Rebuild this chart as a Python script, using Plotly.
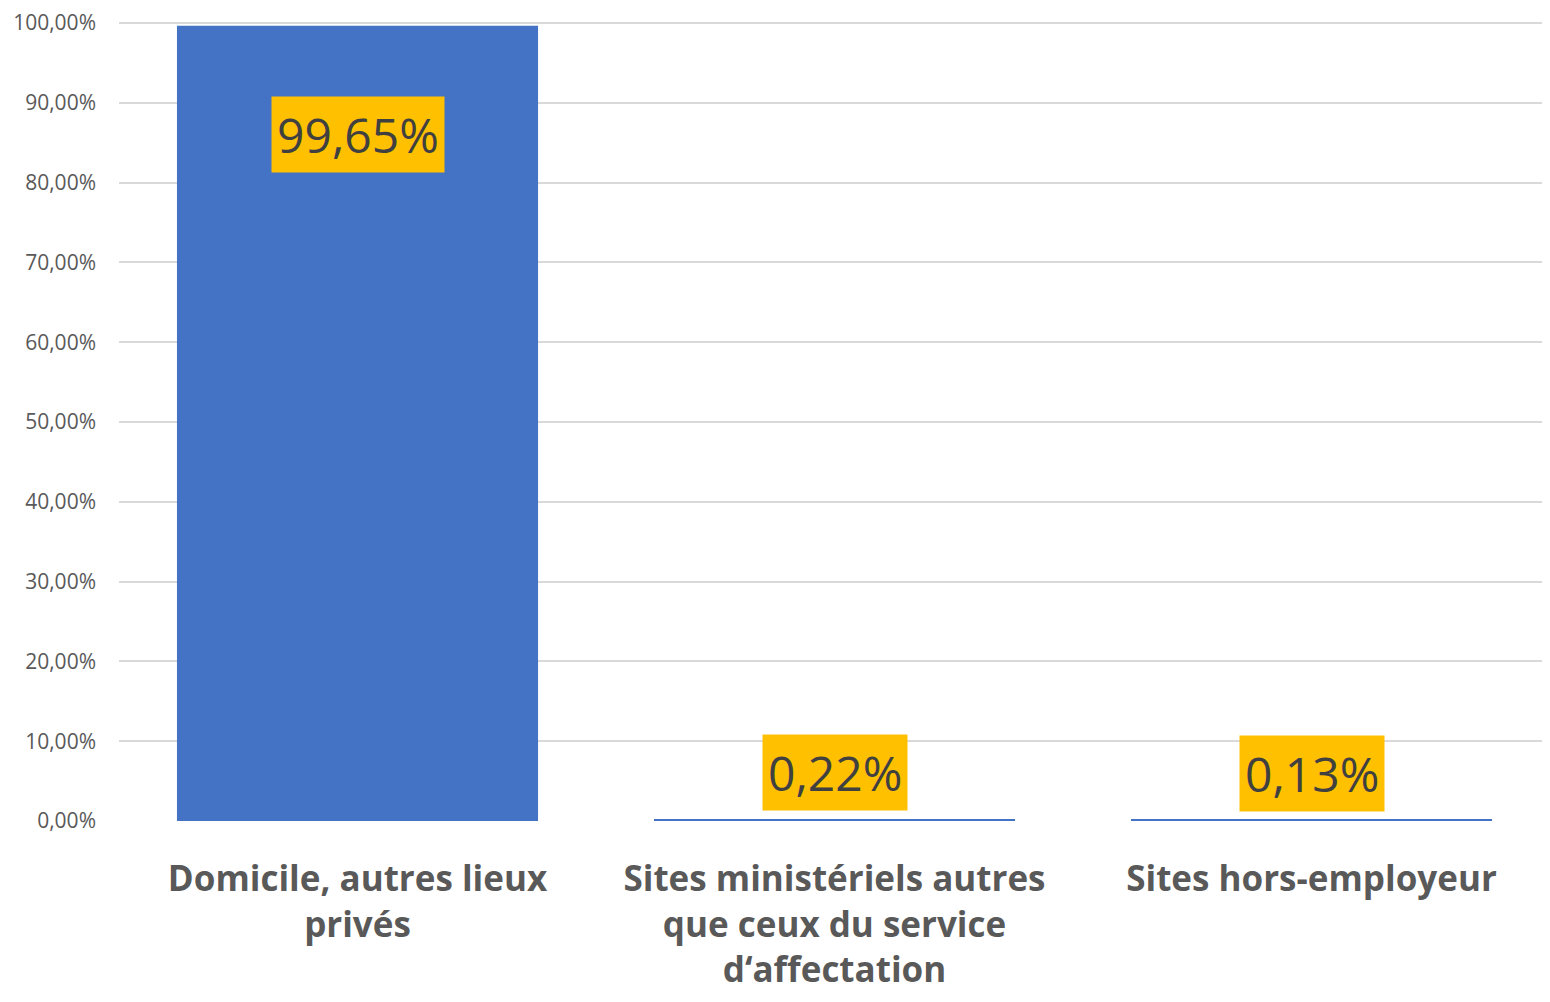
import plotly.graph_objects as go

# categories and shares (fraction of total)
categories = [
    "Domicile, autres lieux<br>privés",
    "Sites ministériels autres<br>que ceux du service<br>d\u2018affectation",
    "Sites hors-employeur",
]
shares = [0.9965, 0.0022, 0.0013]
share_labels = ["99,65%", "0,22%", "0,13%"]
tick_vals = [i / 10 for i in range(11)]
tick_text = [f"{i * 10},00%" for i in range(11)]

fig = go.Figure()
fig.add_trace(go.Bar(
    x=categories,
    y=shares,
    marker_color="#4472C4",
    marker_line_width=0,
    showlegend=False,
    hoverinfo="skip",
))

# yellow data labels: inside the top of the tall bar, just above the tiny ones
for cat, val, lab in zip(categories, shares, share_labels):
    inside = val > 0.5
    fig.add_annotation(
        x=cat, y=val, text=lab, showarrow=False,
        yanchor="top" if inside else "bottom",
        yshift=-70 if inside else 8,
        bgcolor="#FFC000", borderpad=5,
        font=dict(family="Open Sans", size=48, color="#404040"),
    )

# page body has an 8px margin, so shift the plot area to match
fig.update_layout(
    width=1542, height=986,
    margin=dict(l=111, r=0, t=14, b=173),
    plot_bgcolor="white", paper_bgcolor="white",
    bargap=0.243,
    font=dict(family="Open Sans"),
)
fig.update_xaxes(
    tickfont=dict(family="Open Sans", size=35, color="#595959", weight="bold"),
    showgrid=False, showline=False, ticks="",
    ticklabelstandoff=34,
)
fig.update_yaxes(
    range=[0, 1.0013], tickvals=tick_vals, ticktext=tick_text,
    tickfont=dict(family="Open Sans", size=21, color="#595959"),
    gridcolor="#D9D9D9", gridwidth=2, zeroline=False,
    showline=False, ticks="", ticklabelstandoff=22,
    ticklabeloverflow="allow",
)

fig.write_html("out.html")
